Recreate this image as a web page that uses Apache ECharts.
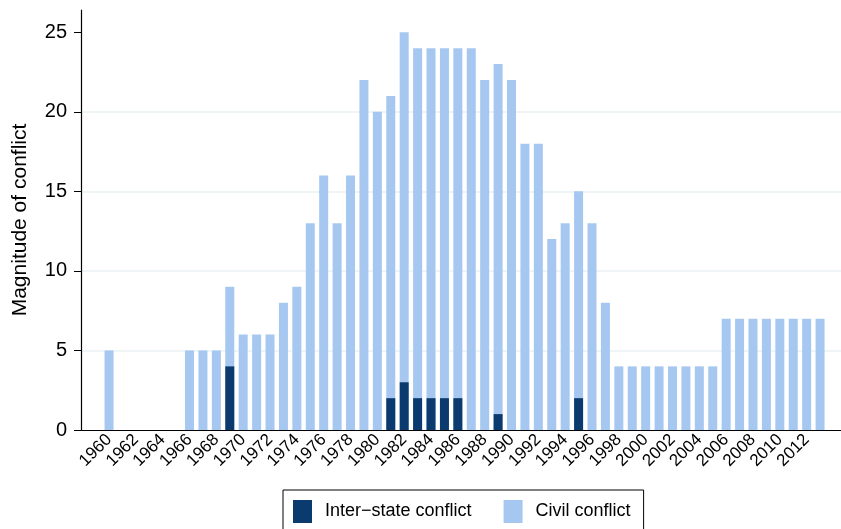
<!DOCTYPE html>
<html>
<head>
<meta charset="utf-8">
<script src="https://cdn.jsdelivr.net/npm/echarts@6/dist/echarts.min.js"></script>
<style>
  html, body { margin: 0; padding: 0; background: #fff; }
  #chart { width: 841px; height: 529px; }
</style>
</head>
<body>
<div id="chart"></div>
<script>
// years 1960..2013
const years = [];
for (let y = 1960; y <= 2013; y++) years.push(y);

const interState = [
  0, 0, 0, 0, 0, 0, 0, 0, 0, 4,
  0, 0, 0, 0, 0, 0, 0, 0, 0, 0,
  0, 2, 3, 2, 2, 2, 2, 0, 0, 1,
  0, 0, 0, 0, 0, 2, 0, 0, 0, 0,
  0, 0, 0, 0, 0, 0, 0, 0, 0, 0,
  0, 0, 0, 0
];
const civil = [
  5, 0, 0, 0, 0, 0, 5, 5, 5, 5,
  6, 6, 6, 8, 9, 13, 16, 13, 16, 22,
  20, 19, 22, 22, 22, 22, 22, 24, 22, 22,
  22, 18, 18, 12, 13, 13, 13, 8, 4, 4,
  4, 4, 4, 4, 4, 4, 7, 7, 7, 7,
  7, 7, 7, 7
];
const yearLabels = [];
for (let y = 1960; y <= 2012; y += 2) yearLabels.push(y);
const yTicks = [0, 5, 10, 15, 20, 25];

const font = "'Liberation Sans', Arial, Helvetica, sans-serif";
const chart = echarts.init(document.getElementById("chart"));

// stacking by hand: civil sits on top of inter-state
const civilTop = years.map((y, i) => [y, interState[i] + civil[i]]);
const interBars = years.map((y, i) => [y, interState[i]]);

const option = {
  animation: false,
  textStyle: { fontFamily: font },
  grid: { left: 81, right: 0, top: 10, bottom: 99 },
  xAxis: {
    type: "value",
    min: 1957.91,
    max: 2014.56,
    axisLine: { show: true, onZero: false, lineStyle: { color: "#000", width: 1.2 } },
    axisTick: { show: false },
    splitLine: { show: false },
    axisLabel: {
      customValues: yearLabels,
      formatter: (v) => String(v),
      rotate: 45,
      fontSize: 17,
      color: "#000",
      margin: 7,
      fontFamily: font
    }
  },
  yAxis: {
    type: "value",
    min: 0,
    max: 26.4,
    name: "Magnitude of conflict",
    nameLocation: "middle",
    nameGap: 50,
    nameTextStyle: { fontSize: 21, color: "#000", fontFamily: font },
    axisLine: { show: true, lineStyle: { color: "#000", width: 1.2 } },
    axisTick: { show: true, length: 7, customValues: yTicks, lineStyle: { color: "#000" } },
    axisLabel: { customValues: yTicks, fontSize: 20, color: "#000", margin: 14, fontFamily: font },
    splitLine: { show: true, showMinLine: false, showMaxLine: false, lineStyle: { color: "#eaf0f4", width: 1.5 } }
  },
  legend: {
    left: 283,
    top: 490,
    padding: [10, 13, 10, 10],
    borderColor: "#000",
    borderWidth: 1,
    itemWidth: 19,
    itemHeight: 23,
    itemGap: 32,
    icon: "rect",
    textStyle: { fontSize: 18, color: "#000", fontFamily: font, padding: [0, 0, 0, 8] },
    data: ["Inter\u2212state conflict", "Civil conflict"]
  },
  series: [
    {
      name: "Civil conflict",
      type: "bar",
      barWidth: 9,
      itemStyle: { color: "#a6c8f0" },
      data: civilTop
    },
    {
      name: "Inter\u2212state conflict",
      type: "bar",
      barWidth: 9,
      barGap: "-100%",
      itemStyle: { color: "#0b3a6e" },
      data: interBars
    }
  ]
};
chart.setOption(option);
</script>
</body>
</html>
